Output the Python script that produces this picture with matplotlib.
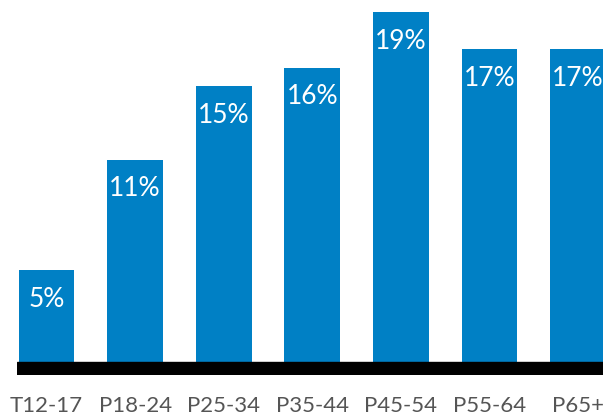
import matplotlib.pyplot as plt

# age groups and share of each
groups = ['T12-17', 'P18-24', 'P25-34', 'P35-44', 'P45-54', 'P55-64', 'P65+']
shares = [5, 11, 15, 16, 19, 17, 17]

plt.rcParams['font.family'] = ['Lato', 'DejaVu Sans']

fig = plt.figure(figsize=(6.03, 4.16), dpi=100)
ax = fig.add_axes([17 / 603, 41 / 416, 586 / 603, 375 / 416])

x = range(len(groups))
bars = ax.bar(x, shares, width=0.63, color='#0080c5', zorder=2)

# thick black base line
ax.axhspan(-0.7, 0, color='black', zorder=3)

for b, v in zip(bars, shares):
    ax.annotate(f'{v}%', (b.get_x() + b.get_width() / 2, v),
                xytext=(0, -12), textcoords='offset points',
                ha='center', va='top', color='white',
                fontsize=19)

ax.set_xlim(-0.333, 6.28)
ax.set_ylim(-0.7, 19.67)
ax.set_xticks(list(x))
ax.set_xticklabels(groups, fontsize=16, color='#555555')
ax.tick_params(axis='x', length=0, pad=15)
ax.set_yticks([])
for s in ax.spines.values():
    s.set_visible(False)

fig.savefig('out.png', dpi=100)
